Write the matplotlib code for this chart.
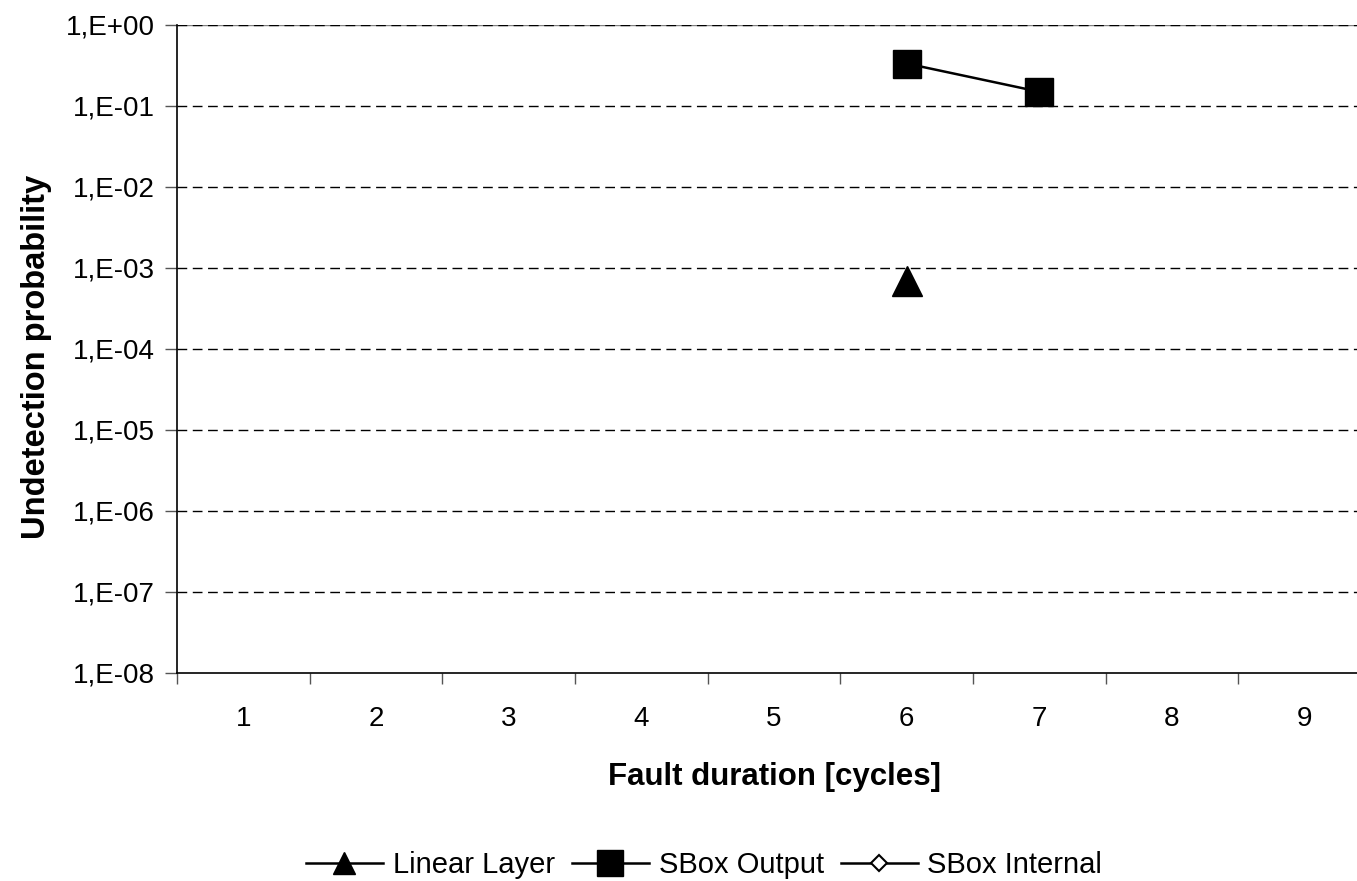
import numpy as np
import matplotlib
matplotlib.use("Agg")
import matplotlib.pyplot as plt
from matplotlib.ticker import FixedLocator, NullLocator

plt.rcParams['font.family'] = ['Liberation Sans', 'DejaVu Sans']

# Fault duration categories (cycles)
durations = [1, 2, 3, 4, 5, 6, 7, 8, 9]

# Undetection probability per series (None = no data)
linear_layer = [None, None, None, None, None, 6.8e-4, None, None, None]
sbox_output = [None, None, None, None, None, 0.33, 0.148, None, None]
sbox_internal = [None, None, None, None, None, None, None, None, None]

y_ticks = [1e0, 1e-1, 1e-2, 1e-3, 1e-4, 1e-5, 1e-6, 1e-7, 1e-8]
y_tick_labels = ["1,E+00", "1,E-01", "1,E-02", "1,E-03", "1,E-04",
                 "1,E-05", "1,E-06", "1,E-07", "1,E-08"]

W, H = 1357, 881
fig = plt.figure(figsize=(W / 100, H / 100), dpi=100)
left, right, top, bottom = 177, 1371, 24.5, 673
ax = fig.add_axes([left / W, 1 - bottom / H, (right - left) / W, (bottom - top) / H])


def to_arr(vals):
    return np.array([np.nan if v is None else v for v in vals], dtype=float)


x = np.arange(1, len(durations) + 1)

ax.plot(x, to_arr(linear_layer), color='black', lw=1.8, marker='^',
        ms=21, mfc='black', mec='black', label='Linear Layer', zorder=5)
ax.plot(x, to_arr(sbox_output), color='black', lw=1.8, marker='s',
        ms=20, mfc='black', mec='black', label='SBox Output', zorder=5)
ax.plot(x, to_arr(sbox_internal), color='black', lw=1.8, marker='D',
        ms=11, mfc='white', mec='black', mew=1.5, label='SBox Internal', zorder=5)

ax.set_yscale('log')
ax.set_ylim(1e-8, 1e0)
ax.set_xlim(0.5, len(durations) + 0.5)

ax.yaxis.set_major_locator(FixedLocator(y_ticks))
ax.yaxis.set_minor_locator(NullLocator())
ax.set_yticklabels(y_tick_labels)

ax.set_xticks(x)
ax.set_xticklabels([str(d) for d in durations])
ax.set_xticks(np.arange(0.5, len(durations) + 1, 1.0), minor=True)
ax.tick_params(axis='x', which='major', length=0, pad=24, labelsize=20)
ax.tick_params(axis='x', which='minor', length=8, width=1, color='#555555', direction='out')
ax.tick_params(axis='y', which='major', length=9, width=1, color='#555555',
               direction='out', pad=7, labelsize=20)

# Dashed horizontal gridlines
for yv in y_ticks[:-1]:
    ax.axhline(yv, color='black', lw=1, dashes=(7, 4), zorder=1)

ax.spines['top'].set_visible(False)
ax.spines['right'].set_visible(False)
ax.axhline(1e0, color='#808080', lw=1, zorder=0.5)
ax.spines['left'].set_linewidth(1.2)
ax.spines['bottom'].set_linewidth(1.2)

fig.text(774 / W, 1 - 777 / H, "Fault duration [cycles]", ha='center', va='center',
         fontsize=22.5, fontweight='bold')
fig.text(37 / W, 1 - 357 / H, "Undetection probability", ha='center', va='center',
         rotation=90, fontsize=23.5, fontweight='bold')

leg = fig.legend(loc='center', bbox_to_anchor=(704 / W, 1 - 865 / H), ncol=3,
                 frameon=False, fontsize=21, handlelength=2.64, handletextpad=0.34,
                 columnspacing=0.58)
for handle, size in zip(leg.legend_handles, [16, 19, 8.5]):
    handle.set_markersize(size)

fig.savefig("out.png", dpi=100, facecolor='white')
